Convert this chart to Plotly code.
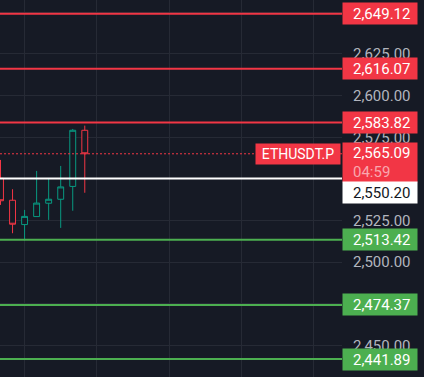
import plotly.graph_objects as go

# ---- data ----
candle_idx = [0, 1, 2, 3, 4, 5, 6, 7]
opens  = [2550.4, 2537.2, 2522.6, 2527.4, 2535.4, 2537.8, 2545.5, 2579.2]
highs  = [2561.4, 2543.8, 2531.4, 2554.8, 2550.0, 2557.8, 2580.0, 2582.0]
lows   = [2534.4, 2517.4, 2513.0, 2527.4, 2525.4, 2520.6, 2530.9, 2541.7]
closes = [2536.9, 2522.8, 2527.5, 2535.5, 2537.8, 2545.2, 2579.2, 2565.09]

resistance_levels = [2649.12, 2616.07, 2583.82]
support_levels = [2513.42, 2474.37, 2441.89]
marker_level = 2550.20
last_price = 2565.09
symbol = "ETHUSDT.P"
countdown = "04:59"

# ---- style ----
BG = "#161A25"
GRID = "#262A35"
RED = "#F23645"
GREEN = "#4CAF50"
UP = "#089981"
TXT = "#B2B5BE"
FONT = "Roboto"
NUM_SIZE = 15
PAD = "\u00a0\u00a0\u200a"

fig = go.Figure()
fig.add_trace(go.Candlestick(
    x=candle_idx, open=opens, high=highs, low=lows, close=closes,
    increasing=dict(line=dict(color=UP, width=1), fillcolor=BG),
    decreasing=dict(line=dict(color=RED, width=1), fillcolor=BG),
    hoverinfo="skip", showlegend=False,
))

shapes = []
annotations = []

def level_line(y, color, width=2, dash="solid"):
    shapes.append(dict(type="line", xref="paper", x0=0, x1=1, yref="y", y0=y, y1=y,
                       line=dict(color=color, width=width, dash=dash)))

def price_box(y, text, bg, fg="#FFFFFF", h=19, yshift=0):
    annotations.append(dict(
        xref="paper", x=1.0, xanchor="left", yref="y", y=y, yanchor="middle",
        yshift=yshift, text=PAD + text, showarrow=False, align="left",
        width=72, height=h, borderpad=1, bgcolor=bg,
        font=dict(family=FONT, size=NUM_SIZE, color=fg)))

for lv in resistance_levels:
    level_line(lv, RED)
    price_box(lv, f"{lv:,.2f}", RED)
for lv in support_levels:
    level_line(lv, GREEN)
    price_box(lv, f"{lv:,.2f}", GREEN)

level_line(last_price, RED, width=1, dash="2px,2px")
level_line(marker_level, "#FFFFFF", width=2)

# current price box (two lines)
annotations.append(dict(
    xref="paper", x=1.0, xanchor="left", yref="y", y=last_price, yanchor="middle",
    yshift=-8.5,
    text=PAD + f"{last_price:,.2f}" + "<br>" + PAD + "<span style='color:#F9A7AF'>" + countdown + "</span>",
    showarrow=False, align="left", width=72, height=37, borderpad=1, bgcolor=RED,
    font=dict(family=FONT, size=NUM_SIZE, color="#FFFFFF")))

# white marker box
price_box(marker_level, f"{marker_level:,.2f}", "#FFFFFF", fg="#131722", yshift=-14)

# symbol label
annotations.append(dict(
    xref="paper", x=1.0, xanchor="right", xshift=-1, yref="y", y=last_price, yanchor="middle",
    text=symbol, showarrow=False, align="center", width=82, height=18, borderpad=1,
    bgcolor=RED, font=dict(family=FONT, size=14, color="#FFFFFF")))

x0 = -0.5 / 12.04
fig.update_layout(
    width=424, height=377,
    margin=dict(l=0, r=82, t=0, b=0),
    paper_bgcolor=BG, plot_bgcolor=BG,
    shapes=shapes, annotations=annotations,
    boxgap=0.3,
    xaxis=dict(range=[x0, x0 + 342 / 12.04], showticklabels=False, tick0=2, dtick=6,
               showgrid=True, gridcolor=GRID, gridwidth=1, zeroline=False,
               rangeslider=dict(visible=False), fixedrange=True),
    yaxis=dict(range=[2431.1, 2657.4], side="right", tick0=2450, dtick=25,
               tickformat=",.2f", showgrid=True, gridcolor=GRID, gridwidth=1,
               zeroline=False, ticks="", ticklabelstandoff=10,
               tickfont=dict(family=FONT, size=NUM_SIZE, color=TXT), fixedrange=True),
    showlegend=False,
)

fig.write_html(
    "out.html",
    config={"displayModeBar": False, "staticPlot": True},
    post_script="document.body.style.margin='0';document.body.style.background='" + BG + "';",
)
